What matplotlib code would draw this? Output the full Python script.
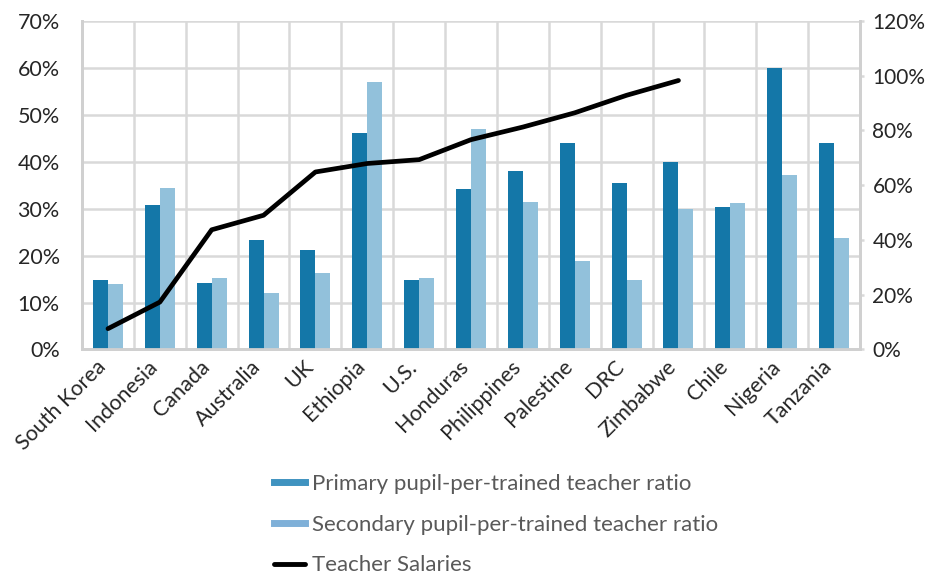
import numpy as np
import matplotlib.pyplot as plt
import matplotlib.transforms as mtransforms
from matplotlib.lines import Line2D
from matplotlib.ticker import PercentFormatter

plt.rcParams['font.family'] = ['Lato', 'DejaVu Sans']

# Data
countries = ['South Korea', 'Indonesia', 'Canada', 'Australia', 'UK', 'Ethiopia', 'U.S.',
             'Honduras', 'Philippines', 'Palestine', 'DRC', 'Zimbabwe', 'Chile', 'Nigeria', 'Tanzania']
primary = [14.8, 30.7, 14.2, 23.4, 21.2, 46.0, 14.9, 34.1, 38.0, 44.0, 35.4, 40.0, 30.4, 59.9, 44.0]
secondary = [13.9, 34.3, 15.2, 12.0, 16.2, 56.9, 15.2, 47.0, 31.4, 18.8, 14.9, 30.0, 31.1, 37.1, 23.8]
salaries = [7.6, 17.3, 43.7, 49.0, 64.8, 67.9, 69.3, 76.6, 81.2, 86.4, 92.8, 98.2,
            np.nan, np.nan, np.nan]

dark = '#1477A8'
light = '#92C1DB'
grid_c = '#D9D9D9'

fig = plt.figure(figsize=(9.26, 5.77), dpi=100)
ax = fig.add_axes([0.0886, 0.3943, 0.8401, 0.5697])
ax2 = ax.twinx()

x = np.arange(len(countries))
w = 0.29
ax.bar(x - w / 2, primary, w, color=dark, zorder=3)
ax.bar(x + w / 2, secondary, w, color=light, zorder=3)
ax2.plot(x, salaries, color='black', lw=3.4, solid_capstyle='round', solid_joinstyle='round')

ax.set_xlim(-0.5, len(countries) - 0.5)
ax.set_ylim(0, 70)
ax.set_yticks(np.arange(0, 71, 10))
ax.yaxis.set_major_formatter(PercentFormatter(decimals=0))
ax2.set_ylim(0, 120)
ax2.set_yticks(np.arange(0, 121, 20))
ax2.yaxis.set_major_formatter(PercentFormatter(decimals=0))

# vertical grid at category boundaries
ax.set_xticks(x)
ax.set_xticks(np.arange(-0.5, len(countries), 1), minor=True)
ax.grid(axis='y', which='major', color=grid_c, lw=1.8, zorder=0)
ax.grid(axis='x', which='minor', color=grid_c, lw=1.8, zorder=0)
ax.tick_params(axis='x', which='both', length=0, pad=5)
ax.set_xticklabels(countries, rotation=45, ha='right', rotation_mode='anchor', fontsize=15.5,
                   color='#262626')
shift = mtransforms.ScaledTranslation(-9 / 72, 0, fig.dpi_scale_trans)
for lbl in ax.get_xticklabels():
    lbl.set_transform(lbl.get_transform() + shift)
ax.tick_params(axis='y', length=0, labelsize=15.5, labelcolor='#262626', pad=16)
ax2.tick_params(axis='y', length=3, width=1.8, color=grid_c, labelsize=15, labelcolor='#262626', pad=6)

for a in (ax, ax2):
    a.spines['top'].set_visible(False)
    for s in ('left', 'right', 'bottom'):
        a.spines[s].set_color('#D0D0D0')
        a.spines[s].set_linewidth(2)

handles = [Line2D([], [], color='#3F93C0', lw=5),
           Line2D([], [], color='#7FB0D8', lw=5),
           Line2D([], [], color='black', lw=3.5, solid_capstyle='round')]
labels = ['Primary pupil-per-trained teacher ratio',
          'Secondary pupil-per-trained teacher ratio',
          'Teacher Salaries']
fig.legend(handles, labels, loc='upper left', bbox_to_anchor=(0.274, 0.213),
           bbox_transform=fig.transFigure, frameon=False, fontsize=16, labelcolor='#595959',
           handlelength=1.4, handletextpad=0.3, labelspacing=0.93)

fig.savefig('out.png', dpi=100)
